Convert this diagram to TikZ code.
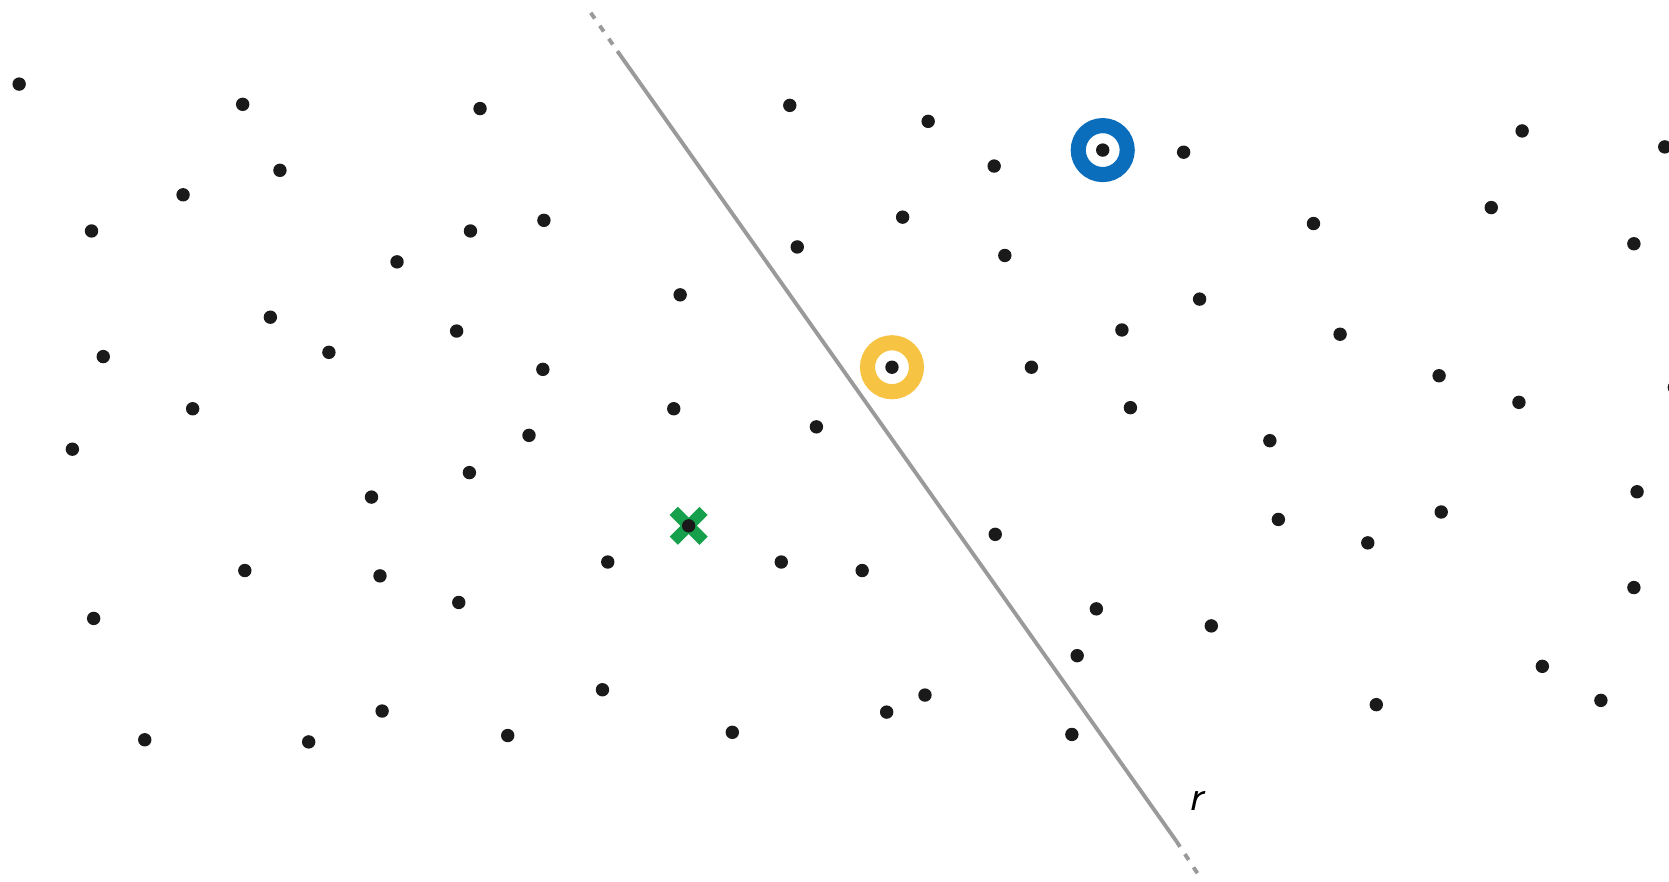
\documentclass[tikz,border=0pt]{standalone}
\usetikzlibrary{calc}
\definecolor{ringblue}{HTML}{0A6EBD}
\definecolor{ringyellow}{HTML}{F6C342}
\definecolor{crossgreen}{HTML}{17A04C}
\definecolor{linegray}{HTML}{9A9A9A}
\definecolor{dotblack}{HTML}{1A1A1A}

\begin{document}
\begin{tikzpicture}[
  x=0.010644cm, y=-0.010644cm,
  pt/.style={fill=dotblack},
  ring/.style={line width=4.3pt, #1},
  xmark/.style={line width=3.3pt, crossgreen},
  sepline/.style={linegray, line width=1.1pt},
  sepdash/.style={linegray, line width=1.1pt, dash pattern=on 2pt off 2.5pt}
]
\useasboundingbox (0,0) rectangle (1568,828);

% === data points ===
\foreach \px/\py in {18/79, 228/98, 451/102, 742/99, 872/114, 1112/143, 1430/123,
  263/160, 172/183, 934/156, 86/217, 442/217, 511/207, 848/204, 749/232, 944/240,
  1234/210, 1401/195, 1535/229, 373/246, 639/277, 1127/281, 254/298, 309/331,
  429/311, 97/335, 510/347, 1054/310, 1259/314, 969/345, 1352/353, 1427/378,
  181/384, 633/384, 1062/383, 767/401, 68/422, 497/409, 1193/414, 441/444,
  349/467, 1538/462, 935/502, 1201/488, 1285/510, 1354/481, 230/536, 357/541,
  571/528, 734/528, 810/536, 88/581, 431/566, 1030/572, 1138/588, 1535/552,
  1012/616, 566/648, 1449/626, 869/653, 833/669, 359/668, 136/695, 290/697,
  477/691, 688/688, 1007/690, 1293/662, 1504/658}
  \fill[pt] (\px,\py) circle (6.3);
% points cut by the right edge
\fill[pt] (1564,138) circle (6.3);
\fill[pt] (1573,364) circle (6.3);

% === separating line r ===
\coordinate (rtop)  at (555,12);
\coordinate (rA)    at (580,48);
\coordinate (rB)    at (1105,790);
\coordinate (rbot)  at (1128,825);
\draw[sepdash] (rtop) -- (rA);
\draw[sepline] (rA) -- (rB);
\draw[sepdash] (rB) -- (rbot);
\node[font=\sffamily\itshape\large] (rlab) at (1123,752) {r};

% === highlighted points ===
\coordinate (qblue)   at (1036,141);
\coordinate (qyellow) at (838,345);
\coordinate (qgreen)  at (647,494);
\draw[ring=ringblue]   (qblue)   circle (23);
\draw[ring=ringyellow] (qyellow) circle (23);
\fill[pt] (qblue) circle (6.3);
\fill[pt] (qyellow) circle (6.3);
\draw[xmark] ($(qgreen)+(-14,-14)$) -- ($(qgreen)+(14,14)$);
\draw[xmark] ($(qgreen)+(-14,14)$) -- ($(qgreen)+(14,-14)$);
\fill[pt] (qgreen) circle (6.3);
\end{tikzpicture}
\end{document}
